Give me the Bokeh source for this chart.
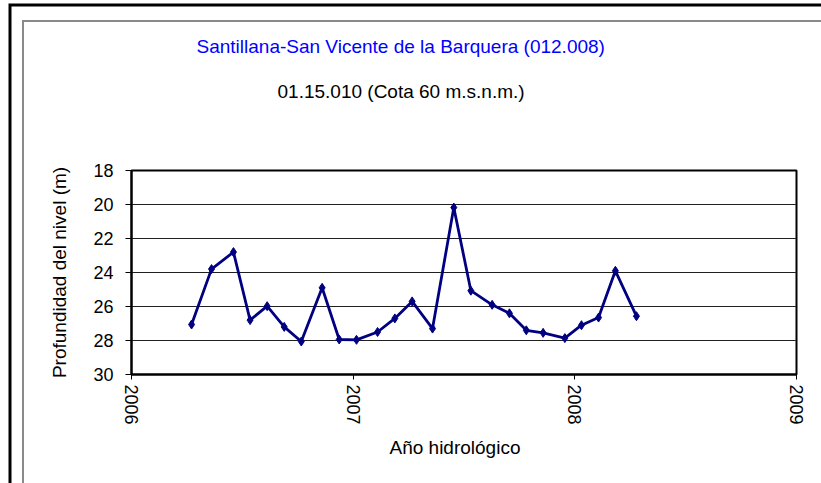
from bokeh.plotting import figure
from bokeh.models import Range1d, FixedTicker, Title
from bokeh.embed import file_html
from bokeh.resources import INLINE

# ---- data ----
years = [2006.271, 2006.361, 2006.460, 2006.535, 2006.612, 2006.689, 2006.766,
         2006.860, 2006.937, 2007.015, 2007.110, 2007.188, 2007.266, 2007.358,
         2007.454, 2007.531, 2007.627, 2007.705, 2007.781, 2007.857, 2007.955,
         2008.030, 2008.107, 2008.183, 2008.278]
depth = [27.06, 23.8, 22.8, 26.8, 25.98, 27.2, 28.06,
         24.9, 27.94, 27.96, 27.5, 26.7, 25.7, 27.3,
         20.18, 25.07, 25.9, 26.4, 27.4, 27.55, 27.86,
         27.1, 26.65, 23.9, 26.57]
x_ticks = [2006, 2007, 2008, 2009]
y_ticks = [18, 20, 22, 24, 26, 28, 30]
title_text = "Santillana-San Vicente de la Barquera (012.008)"
subtitle_text = "01.15.010 (Cota 60 m.s.n.m.)"
x_label = "Año hidrológico"
y_label = "Profundidad del nivel (m)"

FONT = "Liberation Sans"

p = figure(width=797, height=461, output_backend="svg", toolbar_location=None,
           x_range=Range1d(2006, 2009), y_range=Range1d(30, 18),
           min_border_left=107, min_border_right=25,
           min_border_top=148, min_border_bottom=109)
# chart-area frame (grey) and outer frame (black) drawn as CSS rings
p.styles = {
    "margin-left": "24px",
    "margin-top": "22px",
    "box-shadow": "0 0 0 2px #8a8a8a, 1.5px -1.5px 0 14px #ffffff, "
                  "1.5px -1.5px 0 17px #000000",
}
p.background_fill_color = "white"
p.border_fill_color = "white"
p.outline_line_color = "black"
p.outline_line_width = 2
p.title.visible = False

# axes
for ax in (p.xaxis[0], p.yaxis[0]):
    ax.axis_line_color = "black"
    ax.axis_line_width = 2
    ax.major_tick_line_color = "black"
    ax.major_tick_line_width = 1
    ax.minor_tick_line_color = None
    ax.major_tick_in = 0
    ax.major_label_text_font = FONT
    ax.major_label_text_font_size = "18px"
    ax.major_label_text_color = "black"
    ax.axis_label_text_font = FONT
    ax.axis_label_text_font_style = "normal"
    ax.axis_label_text_color = "black"

p.xaxis.ticker = FixedTicker(ticks=x_ticks)
p.yaxis.ticker = FixedTicker(ticks=y_ticks)
p.xaxis.major_tick_out = 5
p.yaxis.major_tick_out = 6
p.xaxis.major_label_orientation = "vertical"
p.xaxis.major_label_standoff = 5
p.yaxis.major_label_standoff = 12
p.yaxis.axis_label = y_label
p.yaxis.axis_label_text_font_size = "19px"
p.yaxis.axis_label_standoff = 20

p.xgrid.visible = False
p.ygrid.ticker = FixedTicker(ticks=y_ticks)
p.ygrid.grid_line_color = "#202020"
p.ygrid.grid_line_width = 1

# x-axis title placed below the axis, shifted left like the original
p.add_layout(Title(text=x_label, align="left", offset=258, standoff=14,
                   text_font=FONT, text_font_size="19px",
                   text_font_style="normal", text_color="black"), "below")

# titles (first added sits closest to the frame); a blank spacer first
p.add_layout(Title(text=" ", align="left", standoff=24, text_font=FONT,
                   text_font_size="19px"), "above")
p.add_layout(Title(text=subtitle_text, align="left", offset=146,
                   standoff=44, text_font=FONT, text_font_size="19px",
                   text_font_style="normal", text_color="black"), "above")
p.add_layout(Title(text=title_text, align="left", offset=65,
                   standoff=0, text_font=FONT, text_font_size="19px",
                   text_font_style="normal", text_color="#0000FF"), "above")

# series
p.line(years, depth, line_color="#000080", line_width=2.8)
p.scatter(years, depth, marker="diamond", size=9, fill_color="#000080",
          line_color="#000080")

open("out.html", "w").write(file_html(p, INLINE))
